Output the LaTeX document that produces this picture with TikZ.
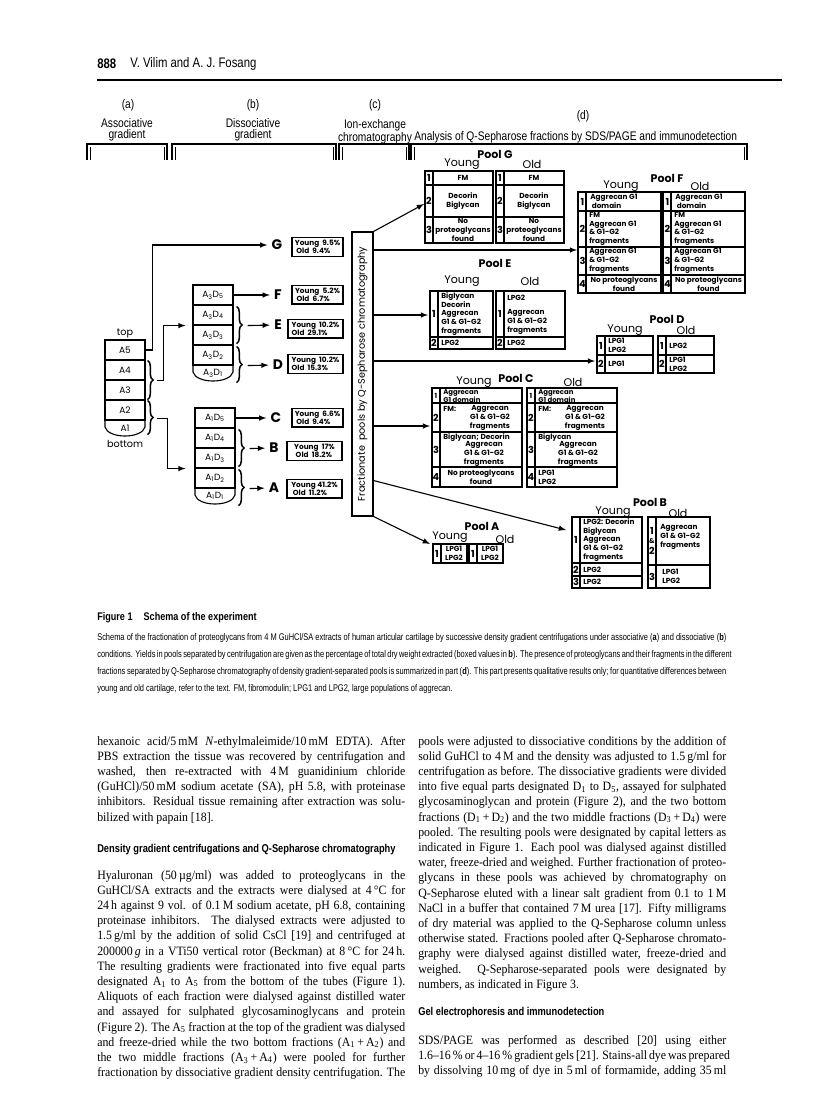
\documentclass[tikz,border=0pt]{standalone}
\usepackage{fontspec}
\setmainfont{Liberation Serif}[FakeStretch=0.93]
\newfontfamily\figfont{Poppins}
\newfontfamily\condfont{Liberation Sans}[FakeStretch=0.82]
\newfontfamily\capfont{Liberation Sans}[FakeStretch=0.77]
\usetikzlibrary{calc,decorations.pathreplacing}

\newlength\colw \setlength\colw{78.23mm}
\newlength\capw \setlength\capw{159.77mm}

% table frame: left, right, top, bottom
\newcommand\pooltab[4]{%
  \draw[tabline] (#1,#3) rectangle (#2,#4);
  \draw[tabline] ({#1+8},#3) -- ({#1+8},#4);}
\newcommand\tabrow[3]{\draw[tabline] (#1,#3) -- (#2,#3);}

\tikzset{
  every node/.style={inner sep=0pt},
  arr/.style={-latex, line width=0.8pt},
  lin/.style={line width=0.8pt},
  tabline/.style={line width=0.9pt},
  seg/.style={draw, line width=0.8pt, minimum width=10.16mm, minimum height=5.08mm,
    font=\figfont\fontsize{6.5}{7}\selectfont},
  lab/.style={font=\figfont\fontsize{7}{7}\selectfont},
  pct/.style={draw, line width=0.8pt, align=left, inner xsep=2pt, minimum height=4.8mm,
    font=\figfont\bfseries\fontsize{5.3}{6}\selectfont},
  letr/.style={font=\figfont\bfseries\fontsize{10}{10}\selectfont},
  brc/.style={decorate, decoration={brace, amplitude=4pt}, line width=1.1pt},
  cell/.style={font=\figfont\bfseries\fontsize{5.3}{6.3}\selectfont, align=left, anchor=west},
  cellc/.style={font=\figfont\bfseries\fontsize{5.3}{6.3}\selectfont, align=center},
  num/.style={font=\figfont\bfseries\fontsize{7}{7}\selectfont},
  pooltitle/.style={font=\figfont\bfseries\fontsize{8}{8}\selectfont},
  agelab/.style={font=\figfont\fontsize{8}{8}\selectfont},
  head/.style={font=\condfont\fontsize{9}{7.6}\selectfont, align=center},
  bodyline/.style={anchor=base west, font=\fontsize{9.2}{11}\selectfont},
  capline/.style={anchor=base west, font=\capfont\fontsize{7}{8}\selectfont},
  sechead/.style={anchor=base west, font=\condfont\bfseries\fontsize{8.2}{10}\selectfont},
}

\begin{document}
\begin{tikzpicture}[x=0.254mm, y=-0.254mm]
\fill[white] (0,0) rectangle (816,1095);
\useasboundingbox (0,0) rectangle (816,1095);

% running head
\node[anchor=west, font=\condfont\bfseries\fontsize{10}{10}\selectfont] (pnum) at (97,64) {888};
\node[anchor=west, font=\condfont\fontsize{10}{10}\selectfont] (auth) at (130,64) {V. Vilim and A. J. Fosang};
\draw[line width=0.9pt] (97,80) -- (782,80);

% column heads
\node[head] (ha) at (128,105) {(a)};
\node[head] (hb) at (253,105) {(b)};
\node[head] (hc) at (375,105) {(c)};
\node[head] (hd) at (583,116) {(d)};
\node[head] (ta) at (127,130) {Associative\\gradient};
\node[head] (tb) at (253,130) {Dissociative\\gradient};
\node[head] (tc) at (375,132) {Ion-exchange\\chromatography};
\node[head, anchor=west] (td) at (414,137) {Analysis of Q-Sepharose fractions by SDS/PAGE and immunodetection};

% brackets
\foreach \xa/\xb in {87/167, 172/336, 339/409, 411/747} {
  \draw[line width=1pt] (\xa,160) -- (\xa,144) -- (\xb,144) -- (\xb,160);
  \draw[line width=0.6pt] ({\xa+3},160) -- ({\xa+3},147);
  \draw[line width=0.6pt] ({\xb-3},160) -- ({\xb-3},147);
}

% associative tube
\node[lab] (toplab) at (125,333) {top};
\node[seg] (a5) at (125,350) {A5};
\node[seg] (a4) at (125,370) {A4};
\node[seg] (a3) at (125,390) {A3};
\node[seg] (a2) at (125,410) {A2};
\draw[lin] (105,420) -- (105,427) .. controls (108,439) and (142,439) .. (145,427) -- (145,420);
\node[seg, draw=none] (a1) at (125,428) {A1};
\node[lab] (botlab) at (125,444) {bottom};
\draw[brc] ($(a4.north east)+(2,1)$) -- ($(a3.south east)+(2,-1)$);
\draw[brc] ($(a2.north east)+(2,1)$) -- ($(a2.south east)+(2,14)$);

% dissociative tubes
\node[seg] (b5) at (213,295) {A\textsubscript{3}D\textsubscript{5}};
\node[seg] (b4) at (213,315) {A\textsubscript{3}D\textsubscript{4}};
\node[seg] (b3) at (213,335) {A\textsubscript{3}D\textsubscript{3}};
\node[seg] (b2) at (213,355) {A\textsubscript{3}D\textsubscript{2}};
\draw[lin] (193,365) -- (193,372) .. controls (196,384) and (230,384) .. (233,372) -- (233,365);
\node[seg, draw=none] (b1) at (213,373) {A\textsubscript{3}D\textsubscript{1}};
\draw[brc] ($(b4.north east)+(3,2)$) -- ($(b3.south east)+(3,-2)$);
\draw[brc] ($(b2.north east)+(3,2)$) -- ($(b2.south east)+(3,17)$);

\node[seg] (c5) at (215,418) {A\textsubscript{1}D\textsubscript{5}};
\node[seg] (c4) at (215,438) {A\textsubscript{1}D\textsubscript{4}};
\node[seg] (c3) at (215,458) {A\textsubscript{1}D\textsubscript{3}};
\node[seg] (c2) at (215,478) {A\textsubscript{1}D\textsubscript{2}};
\draw[lin] (195,488) -- (195,495) .. controls (198,507) and (232,507) .. (235,495) -- (235,488);
\node[seg, draw=none] (c1) at (215,496) {A\textsubscript{1}D\textsubscript{1}};
\draw[brc] ($(c4.north east)+(3,2)$) -- ($(c3.south east)+(3,-2)$);
\draw[brc] ($(c2.north east)+(3,2)$) -- ($(c2.south east)+(3,17)$);

% pools
\node[letr] (G) at (277,245) {G};
\node[letr] (F) at (278,295) {F};
\node[letr] (E) at (278,325) {E};
\node[letr] (D) at (278,365) {D};
\node[letr] (C) at (276,418) {C};
\node[letr] (B) at (274,448) {B};
\node[letr] (A) at (274,488) {A};

\draw[arr, shorten >=3pt] (a5.east) -- ++(7,0) |- (G.west);
\draw[arr] ($(a4.south east)+(11,0)$) -- ++(7,0) |- ($(b4.south west)+(-7,0)$);
\draw[arr] ($(a2.south east)+(11,-2)$) -- ++(11,0) |- ($(c3.south west)+(-9,0)$);
\draw[arr, shorten >=3pt] (b5.east) -- (F.west);
\draw[arr, shorten >=3pt] ($(b4.south east)+(14,0)$) -- (E.west);
\draw[arr, shorten >=3pt] ($(b2.south east)+(14,0)$) -- (D.west);
\draw[arr, shorten >=3pt] (c5.east) -- (C.west);
\draw[arr, shorten >=3pt] ($(c4.south east)+(14,0)$) -- (B.west);
\draw[arr, shorten >=3pt] ($(c2.south east)+(14,0)$) -- (A.west);

% yields
\node[pct, minimum width=12.95mm] (pG) at (317.5,247) {Young\ \ 9.5\%\\\ Old\ \ 9.4\%};
\node[pct, minimum width=12.95mm] (pF) at (317.5,294.5) {Young\ \ 5.2\%\\\ Old\ \ 6.7\%};
\node[pct, minimum width=13.97mm] (pE) at (315.5,328.5) {Young\ \ 10.2\%\\Old\ \ 29.1\%};
\node[pct, minimum width=13.97mm] (pD) at (315.5,364) {Young\ \ 10.2\%\\Old\ \ 15.3\%};
\node[pct, minimum width=12.95mm] (pC) at (317.5,417.5) {Young\ \ 6.6\%\\\ Old\ \ 9.4\%};
\node[pct, minimum width=13.97mm] (pB) at (314.5,451) {Young\ \ 17\%\\\ Old\ \ 18.2\%};
\node[pct, minimum width=13.97mm] (pA) at (314.5,488.5) {Young 41.2\%\\\ Old\ \ 11.2\%};

% Q-Sepharose bar
\node[draw, line width=0.9pt, minimum width=5.33mm, minimum height=72.1mm,
  font=\figfont\fontsize{7}{7}\selectfont] (qbar) at (362.5,374)
  {\rotatebox{90}{Fractionate\ \ pools by Q-Sepharose chromatography}};

\coordinate (inG) at (424,204);
\coordinate (inF) at (577,250);
\coordinate (inE) at (428,315);
\coordinate (inD) at (595,361);
\coordinate (inC) at (430,426);
\coordinate (inB) at (566,530);
\coordinate (inA) at (430,544);
\draw[arr] (qbar.north east) -- (inG);
\draw[arr] (qbar.east |- inF) -- (inF);
\draw[arr] (qbar.east |- inE) -- (inE);
\draw[arr] (qbar.east |- inD) -- (inD);
\draw[arr] (qbar.east |- inC) -- (inC);
\draw[arr] ($(qbar.south east)+(0,-36)$) -- (inB);
\draw[arr] (qbar.south east) -- (inA);

% Pool G
\node[pooltitle] (tG) at (495,154) {Pool G};
\node[agelab] (yG) at (462,164) {Young};
\node[agelab] (oG) at (532,164) {Old};
\pooltab{425}{493}{171}{243} \tabrow{425}{493}{185} \tabrow{425}{493}{217}
\pooltab{496}{564}{171}{243} \tabrow{496}{564}{185} \tabrow{496}{564}{217}
\foreach \x in {429,500} \foreach \n/\y in {1/178,2/201,3/230}
  \node[num] (g\x-\n) at (\x,\y) {\n};
\node[cellc] (gy-1) at (463,178) {FM};
\node[cellc] (gy-2) at (463,201) {Decorin\\Biglycan};
\node[cellc] (gy-3) at (463,230) {No\\proteoglycans\\found};
\node[cellc] (go-1) at (534,178) {FM};
\node[cellc] (go-2) at (534,201) {Decorin\\Biglycan};
\node[cellc] (go-3) at (534,230) {No\\proteoglycans\\found};

% Pool F
\node[pooltitle] (tF) at (667,178) {Pool F};
\node[agelab] (yF) at (621,186) {Young};
\node[agelab] (oF) at (700,186) {Old};
\pooltab{578}{661}{192}{293} \tabrow{578}{661}{211} \tabrow{578}{661}{247} \tabrow{578}{661}{275}
\pooltab{663}{745}{192}{293} \tabrow{663}{745}{211} \tabrow{663}{745}{247} \tabrow{663}{745}{275}
\foreach \x in {582.5,667.5} \foreach \n/\y in {1/201.5,2/229,3/261,4/284}
  \node[num] (f\x-\n) at (\x,\y) {\n};
\node[cell] (fy-1) at (590,201.5) {Aggrecan G1\\\ domain};
\node[cell] (fy-2) at (589,229) {FM\\Aggrecan G1\\\& G1-G2\\fragments};
\node[cell] (fy-3) at (589,261) {Aggrecan G1\\\& G1-G2\\fragments};
\node[cellc] (fy-4) at (624,284) {No proteoglycans\\found};
\node[cell] (fo-1) at (675,201.5) {Aggrecan G1\\\ domain};
\node[cell] (fo-2) at (674,229) {FM\\Aggrecan G1\\\& G1-G2\\fragments};
\node[cell] (fo-3) at (674,261) {Aggrecan G1\\\& G1-G2\\fragments};
\node[cellc] (fo-4) at (708.5,284) {No proteoglycans\\found};

% Pool E
\node[pooltitle] (tE) at (495,263) {Pool E};
\node[agelab] (yE) at (462,281) {Young};
\node[agelab] (oE) at (530,281) {Old};
\pooltab{430}{493}{291}{349} \tabrow{430}{493}{337}
\pooltab{496}{565}{291}{349} \tabrow{496}{565}{337}
\foreach \x in {434,500} \foreach \n/\y in {1/314,2/343}
  \node[num] (e\x-\n) at (\x,\y) {\n};
\node[cell] (ey-1) at (441,314) {Biglycan\\Decorin\\Aggrecan\\G1 \& G1-G2\\fragments};
\node[cell] (ey-2) at (441,343) {LPG2};
\node[cell] (eo-1a) at (507,298) {LPG2};
\node[cell] (eo-1b) at (507,322) {Aggrecan\\G1 \& G1-G2\\fragments};
\node[cell] (eo-2) at (507,343) {LPG2};

% Pool D
\node[pooltitle] (tD) at (667,319) {Pool D};
\node[agelab] (yD) at (625,330) {Young};
\node[agelab] (oD) at (686,330) {Old};
\pooltab{597}{653}{336}{373} \tabrow{597}{653}{355}
\pooltab{658}{714}{336}{373} \tabrow{658}{714}{355}
\foreach \x in {601,662} \foreach \n/\y in {1/345.5,2/364}
  \node[num] (d\x-\n) at (\x,\y) {\n};
\node[cell] (dy-1) at (608,345.5) {LPG1\\LPG2};
\node[cell] (dy-2) at (608,364) {LPG1};
\node[cell] (do-1) at (669,345.5) {LPG2};
\node[cell] (do-2) at (669,364) {LPG1\\LPG2};

% Pool C
\node[pooltitle] (tC) at (516,378) {Pool C};
\node[agelab] (yC) at (474,382) {Young};
\node[agelab] (oC) at (573,382) {Old};
\pooltab{432}{522}{388}{487} \tabrow{432}{522}{403} \tabrow{432}{522}{432} \tabrow{432}{522}{467}
\pooltab{527}{617}{388}{487} \tabrow{527}{617}{403} \tabrow{527}{617}{432} \tabrow{527}{617}{467}
\foreach \x in {436,531} \foreach \n/\y in {2/417.5,3/449.5,4/477}
  \node[num] (c\x-\n) at (\x,\y) {\n};
\node[num, font=\figfont\bfseries\fontsize{5}{5}\selectfont] (c436-1) at (436,396) {1};
\node[num, font=\figfont\bfseries\fontsize{5}{5}\selectfont] (c531-1) at (531,396) {1};
\node[cell, font=\figfont\bfseries\fontsize{5}{5.4}\selectfont] (cy-1) at (443,396) {Aggrecan\\G1 domain};
\node[cell] (cy-2a) at (443,409) {FM:};
\node[cellc] (cy-2b) at (490,418) {Aggrecan\\G1 \& G1-G2\\fragments};
\node[cell] (cy-3a) at (443,438) {Biglycan; Decorin};
\node[cellc] (cy-3b) at (484,454) {Aggrecan\\G1 \& G1-G2\\fragments};
\node[cellc] (cy-4) at (481,477) {No proteoglycans\\found};
\node[cell, font=\figfont\bfseries\fontsize{5}{5.4}\selectfont] (co-1) at (538,396) {Aggrecan\\G1 domain};
\node[cell] (co-2a) at (538,409) {FM:};
\node[cellc] (co-2b) at (585,418) {Aggrecan\\G1 \& G1-G2\\fragments};
\node[cell] (co-3a) at (538,438) {Biglycan};
\node[cellc] (co-3b) at (578,454) {Aggrecan\\G1 \& G1-G2\\fragments};
\node[cell] (co-4) at (538,477) {LPG1\\LPG2};

% Pool B
\node[pooltitle] (tB) at (650,502) {Pool B};
\node[agelab] (yB) at (613,512) {Young};
\node[agelab] (oB) at (678,513) {Old};
\pooltab{572}{642}{517}{588} \tabrow{572}{642}{563} \tabrow{572}{642}{576}
\pooltab{648}{710}{517}{588} \tabrow{648}{710}{565}
\foreach \n/\y in {1/540,2/569.5,3/582}
  \node[num] (b576-\n) at (576,\y) {\n};
\node[num, align=center, font=\figfont\bfseries\fontsize{7}{8}\selectfont] (bo-n) at (652,541) {1\\[-1pt]{\fontsize{5}{5}\selectfont\&}\\2};
\node[num] (bo-n3) at (652,576.5) {3};
\node[cell] (by-1) at (583,540) {LPG2: Decorin\\Biglycan\\Aggrecan\\G1 \& G1-G2\\fragments};
\node[cell] (by-2) at (583,569.5) {LPG2};
\node[cell] (by-3) at (583,582) {LPG2};
\node[cell] (bo-1) at (660,537) {Aggrecan\\G1 \& G1-G2\\fragments};
\node[cell] (bo-3) at (662,576.5) {LPG1\\LPG2};

% Pool A
\node[pooltitle] (tA) at (482,526) {Pool A};
\node[agelab] (yA) at (450,537) {Young};
\node[agelab] (oA) at (505,539) {Old};
\pooltab{433}{467}{544}{563}
\pooltab{469}{503}{544}{563}
\node[num] (a437-1) at (437,553.5) {1};
\node[num] (a473-1) at (473,553.5) {1};
\node[cellc] (ay-1) at (454,553.5) {LPG1\\LPG2};
\node[cellc] (ao-1) at (490,553.5) {LPG1\\LPG2};

% caption
\node[anchor=base west, font=\condfont\bfseries\fontsize{8}{9}\selectfont] (figlab) at (97,620)
  {Figure 1\quad Schema of the experiment};
\node[capline] (cap1) at (97,640) {\makebox[\capw][s]{Schema of the fractionation of proteoglycans from 4 M GuHCl/SA extracts of human articular cartilage by successive density gradient centrifugations under associative (\textbf{a}) and dissociative (\textbf{b})}};
\node[capline] (cap2) at (97,657) {\makebox[\capw][s]{conditions. Yields in pools separated by centrifugation are given as the percentage of total dry weight extracted (boxed values in \textbf{b}). The presence of proteoglycans and their fragments in the different}};
\node[capline] (cap3) at (97,674) {\makebox[\capw][s]{fractions separated by Q-Sepharose chromatography of density gradient-separated pools is summarized in part (\textbf{d}). This part presents qualitative results only; for quantitative differences between}};
\node[capline] (cap4) at (97,691) {young and old cartilage, refer to the text. FM, fibromodulin; LPG1 and LPG2, large populations of aggrecan.};

% text, left column
\foreach \txt [count=\i] in {
  {hexanoic acid/5\,mM \textit{N}-ethylmaleimide/10\,mM EDTA). After},
  {PBS extraction the tissue was recovered by centrifugation and},
  {washed, then re-extracted with 4\,M guanidinium chloride},
  {(GuHCl)/50\,mM sodium acetate (SA), pH 5.8, with proteinase},
  {inhibitors. Residual tissue remaining after extraction was solu-}}
  \node[bodyline] (L\i) at (97,{745+(\i-1)*15.2}) {\makebox[\colw][s]{\txt}};
\node[bodyline] (L6) at (97,821) {bilized with papain [18].};
\node[sechead] (sh1) at (97,852) {Density gradient centrifugations and Q-Sepharose chromatography};
\foreach \txt [count=\i] in {
  {Hyaluronan (50\,µg/ml) was added to proteoglycans in the},
  {GuHCl/SA extracts and the extracts were dialysed at 4\,°C for},
  {24\,h against 9 vol. of 0.1\,M sodium acetate, pH 6.8, containing},
  {proteinase inhibitors. The dialysed extracts were adjusted to},
  {1.5\,g/ml by the addition of solid CsCl [19] and centrifuged at},
  {200000\,\textit{g} in a VTi50 vertical rotor (Beckman) at 8\,°C for 24\,h.},
  {The resulting gradients were fractionated into five equal parts},
  {designated A\textsubscript{1} to A\textsubscript{5} from the bottom of the tubes (Figure 1).},
  {Aliquots of each fraction were dialysed against distilled water},
  {and assayed for sulphated glycosaminoglycans and protein},
  {(Figure 2). The A\textsubscript{5} fraction at the top of the gradient was dialysed},
  {and freeze-dried while the two bottom fractions (A\textsubscript{1}\,+\,A\textsubscript{2}) and},
  {the two middle fractions (A\textsubscript{3}\,+\,A\textsubscript{4}) were pooled for further},
  {fractionation by dissociative gradient density centrifugation. The}}
  \node[bodyline] (M\i) at (97,{879+(\i-1)*15.2}) {\makebox[\colw][s]{\txt}};

% text, right column
\foreach \txt [count=\i] in {
  {pools were adjusted to dissociative conditions by the addition of},
  {solid GuHCl to 4\,M and the density was adjusted to 1.5\,g/ml for},
  {centrifugation as before. The dissociative gradients were divided},
  {into five equal parts designated D\textsubscript{1} to D\textsubscript{5}, assayed for sulphated},
  {glycosaminoglycan and protein (Figure 2), and the two bottom},
  {fractions (D\textsubscript{1}\,+\,D\textsubscript{2}) and the two middle fractions (D\textsubscript{3}\,+\,D\textsubscript{4}) were},
  {pooled. The resulting pools were designated by capital letters as},
  {indicated in Figure 1. Each pool was dialysed against distilled},
  {water, freeze-dried and weighed. Further fractionation of proteo-},
  {glycans in these pools was achieved by chromatography on},
  {Q-Sepharose eluted with a linear salt gradient from 0.1 to 1\,M},
  {NaCl in a buffer that contained 7\,M urea [17]. Fifty milligrams},
  {of dry material was applied to the Q-Sepharose column unless},
  {otherwise stated. Fractions pooled after Q-Sepharose chromato-},
  {graphy were dialysed against distilled water, freeze-dried and},
  {weighed. Q-Sepharose-separated pools were designated by}}
  \node[bodyline] (R\i) at (418,{745+(\i-1)*15.2}) {\makebox[\colw][s]{\txt}};
\node[bodyline] (R17) at (418,988) {numbers, as indicated in Figure 3.};
\node[sechead] (sh2) at (418,1015) {Gel electrophoresis and immunodetection};
\foreach \txt [count=\i] in {
  {SDS/PAGE was performed as described [20] using either},
  {1.6--16\,\% or 4--16\,\% gradient gels [21]. Stains-all dye was prepared},
  {by dissolving 10\,mg of dye in 5\,ml of formamide, adding 35\,ml}}
  \node[bodyline] (S\i) at (418,{1044+(\i-1)*15.2}) {\makebox[\colw][s]{\txt}};
\end{tikzpicture}
\end{document}
